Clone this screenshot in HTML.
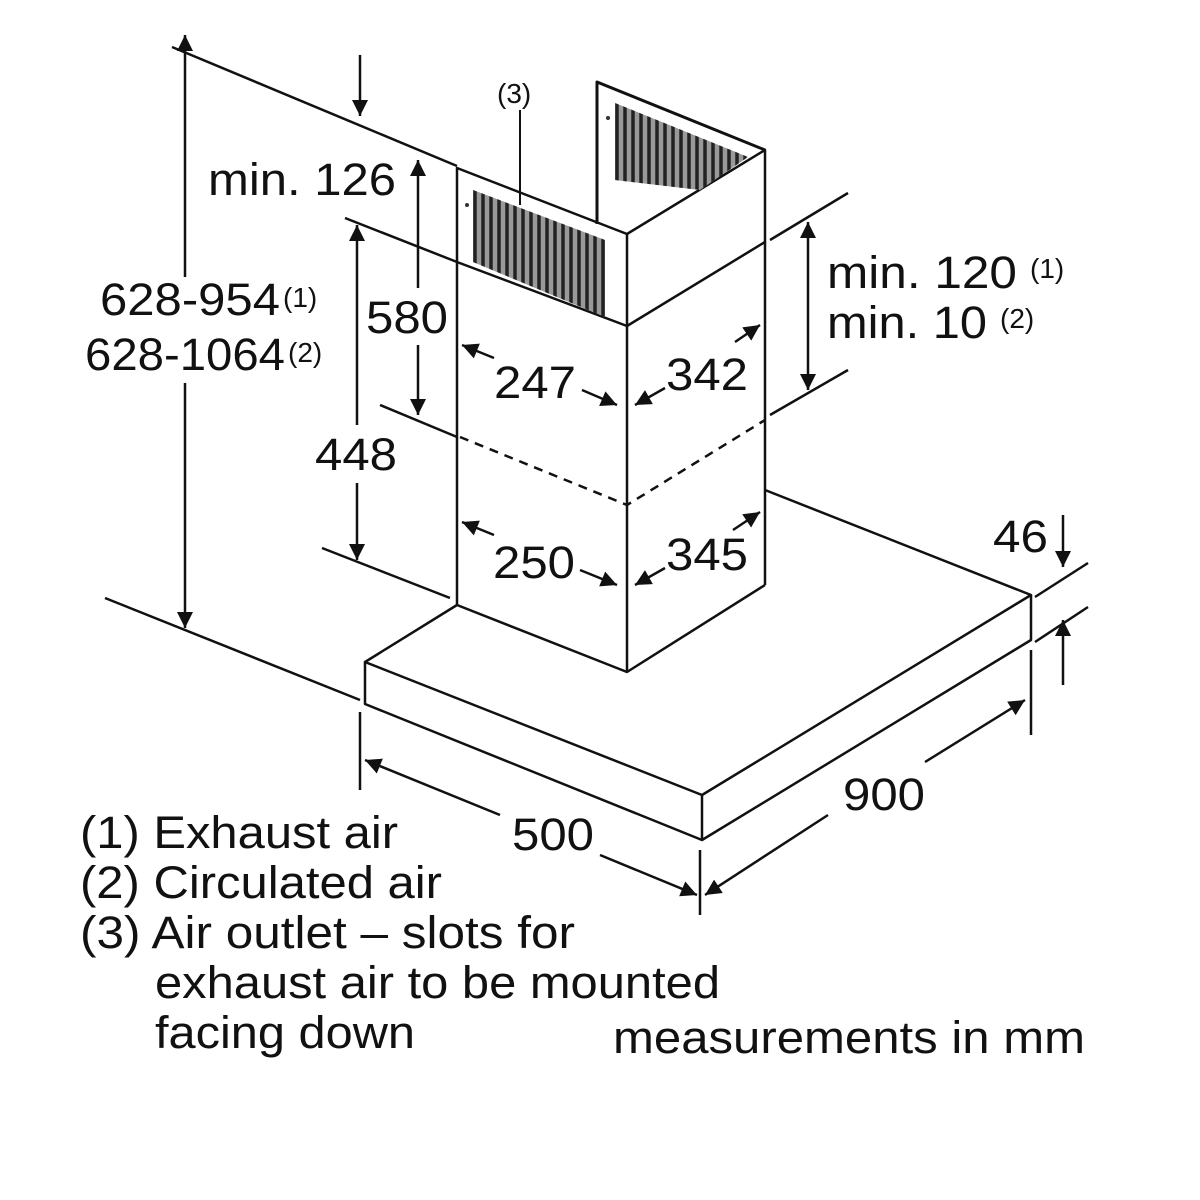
<!DOCTYPE html>
<html><head><style>
html,body{margin:0;padding:0;background:#fff}
svg{display:block}
text{font-family:"Liberation Sans",Arial,sans-serif;fill:#111}
</style></head><body>
<svg width="1200" height="1200" viewBox="0 0 1200 1200" xmlns="http://www.w3.org/2000/svg">
<defs>
<marker id="b" viewBox="0 0 10 10" refX="10" refY="5" markerWidth="24" markerHeight="16" orient="auto-start-reverse" markerUnits="userSpaceOnUse"><path d="M0,0 L10,5 L0,10 Z" fill="#111"/></marker>
<clipPath id="g1"><polygon points="473,190 605,240 605,317 473,262"/></clipPath>
<clipPath id="g2"><polygon points="615,103 748,157 700,190 615,180"/></clipPath>
</defs>
<g stroke="#111" stroke-width="2.5" fill="none" stroke-linejoin="round">
<line x1="172" y1="47" x2="457" y2="166"/>
<line x1="345" y1="218" x2="457" y2="262"/>
<line x1="380" y1="405" x2="457" y2="437"/>
<line x1="322" y1="548" x2="450" y2="598"/>
<line x1="105" y1="598" x2="360" y2="700"/>
<line x1="770" y1="240" x2="848" y2="193"/>
<line x1="770" y1="415" x2="848" y2="370"/>
<polyline points="457,262 457,168 627,234 765,150 765,242"/>
<line x1="627" y1="234" x2="627" y2="672"/>
<polyline points="597,224 597,82 765,150" stroke-width="3"/>
<polyline points="457,262 627,326 765,242"/>
<line x1="457" y1="262" x2="457" y2="605"/>
<line x1="765" y1="242" x2="765" y2="585"/>
<polyline points="457,605 627,672 765,585"/>
<polyline points="460,437 627,505 765,420" stroke-dasharray="9,7"/>
<polyline points="457,605 365,662 702,795 1031,595 765,490"/>
<polyline points="365,662 365,704 702,840 1031,640 1031,595"/>
<line x1="702" y1="795" x2="702" y2="840"/>
<line x1="360" y1="712" x2="360" y2="790"/>
<line x1="700" y1="850" x2="700" y2="915"/>
<line x1="1031" y1="650" x2="1031" y2="735"/>
<line x1="1035" y1="597" x2="1088" y2="563"/>
<line x1="1035" y1="642" x2="1088" y2="607"/>
<line x1="520" y1="110" x2="520" y2="205" stroke-width="2"/>
</g>
<g clip-path="url(#g1)" stroke-width="3.5">
<rect x="470" y="185" width="140" height="140" fill="#999"/>
<g stroke="#222">
<line x1="475" y1="180" x2="475" y2="330"/><line x1="483" y1="180" x2="483" y2="330"/><line x1="491" y1="180" x2="491" y2="330"/><line x1="499" y1="180" x2="499" y2="330"/><line x1="507" y1="180" x2="507" y2="330"/><line x1="515" y1="180" x2="515" y2="330"/><line x1="523" y1="180" x2="523" y2="330"/><line x1="531" y1="180" x2="531" y2="330"/><line x1="539" y1="180" x2="539" y2="330"/><line x1="547" y1="180" x2="547" y2="330"/><line x1="555" y1="180" x2="555" y2="330"/><line x1="563" y1="180" x2="563" y2="330"/><line x1="571" y1="180" x2="571" y2="330"/><line x1="579" y1="180" x2="579" y2="330"/><line x1="587" y1="180" x2="587" y2="330"/><line x1="595" y1="180" x2="595" y2="330"/><line x1="603" y1="180" x2="603" y2="330"/>
</g></g>
<g clip-path="url(#g2)" stroke-width="3.5">
<rect x="612" y="100" width="140" height="95" fill="#999"/>
<g stroke="#222">
<line x1="617" y1="95" x2="617" y2="200"/><line x1="625" y1="95" x2="625" y2="200"/><line x1="633" y1="95" x2="633" y2="200"/><line x1="641" y1="95" x2="641" y2="200"/><line x1="649" y1="95" x2="649" y2="200"/><line x1="657" y1="95" x2="657" y2="200"/><line x1="665" y1="95" x2="665" y2="200"/><line x1="673" y1="95" x2="673" y2="200"/><line x1="681" y1="95" x2="681" y2="200"/><line x1="689" y1="95" x2="689" y2="200"/><line x1="697" y1="95" x2="697" y2="200"/><line x1="705" y1="95" x2="705" y2="200"/><line x1="713" y1="95" x2="713" y2="200"/><line x1="721" y1="95" x2="721" y2="200"/><line x1="729" y1="95" x2="729" y2="200"/><line x1="737" y1="95" x2="737" y2="200"/><line x1="745" y1="95" x2="745" y2="200"/>
</g></g>
<circle cx="467" cy="205" r="2" fill="#333"/><circle cx="608" cy="118" r="2" fill="#333"/>
<g stroke="#111" stroke-width="2.5" fill="none">
<line x1="185" y1="35" x2="185" y2="277" marker-start="url(#b)"/>
<line x1="185" y1="383" x2="185" y2="628" marker-end="url(#b)"/>
<line x1="360" y1="55" x2="360" y2="116" marker-end="url(#b)"/>
<line x1="418" y1="160" x2="418" y2="288" marker-start="url(#b)"/>
<line x1="418" y1="345" x2="418" y2="415" marker-end="url(#b)"/>
<line x1="357" y1="225" x2="357" y2="425" marker-start="url(#b)"/>
<line x1="357" y1="483" x2="357" y2="560" marker-end="url(#b)"/>
<line x1="808" y1="222" x2="808" y2="390" marker-start="url(#b)" marker-end="url(#b)"/>
<line x1="462" y1="345" x2="494" y2="358" marker-start="url(#b)"/>
<line x1="582" y1="390" x2="617" y2="405" marker-end="url(#b)"/>
<line x1="735" y1="342" x2="760" y2="325" marker-end="url(#b)"/>
<line x1="665" y1="388" x2="635" y2="405" marker-end="url(#b)"/>
<line x1="462" y1="522" x2="494" y2="535" marker-start="url(#b)"/>
<line x1="580" y1="570" x2="617" y2="585" marker-end="url(#b)"/>
<line x1="733" y1="530" x2="760" y2="512" marker-end="url(#b)"/>
<line x1="665" y1="568" x2="635" y2="585" marker-end="url(#b)"/>
<line x1="365" y1="760" x2="500" y2="815" marker-start="url(#b)"/>
<line x1="600" y1="855" x2="697" y2="895" marker-end="url(#b)"/>
<line x1="705" y1="895" x2="828" y2="815" marker-start="url(#b)"/>
<line x1="925" y1="762" x2="1025" y2="700" marker-end="url(#b)"/>
<line x1="1063" y1="515" x2="1063" y2="567" marker-end="url(#b)"/>
<line x1="1063" y1="685" x2="1063" y2="620" marker-end="url(#b)"/>
</g>
<g font-size="45">
<text x="497" y="103" font-size="28">(3)</text>
<text x="208" y="195" textLength="188" lengthAdjust="spacingAndGlyphs">min. 126</text>
<text x="100" y="315" textLength="180" lengthAdjust="spacingAndGlyphs">628-954</text><text x="283" y="307" font-size="28">(1)</text>
<text x="85" y="370" textLength="200" lengthAdjust="spacingAndGlyphs">628-1064</text><text x="288" y="362" font-size="28">(2)</text>
<text x="366" y="333" textLength="82" lengthAdjust="spacingAndGlyphs">580</text>
<text x="315" y="470" textLength="82" lengthAdjust="spacingAndGlyphs">448</text>
<text x="494" y="398" textLength="82" lengthAdjust="spacingAndGlyphs">247</text>
<text x="666" y="390" textLength="82" lengthAdjust="spacingAndGlyphs">342</text>
<text x="493" y="578" textLength="82" lengthAdjust="spacingAndGlyphs">250</text>
<text x="666" y="570" textLength="82" lengthAdjust="spacingAndGlyphs">345</text>
<text x="827" y="288" textLength="190" lengthAdjust="spacingAndGlyphs">min. 120</text><text x="1030" y="278" font-size="28">(1)</text>
<text x="827" y="338" textLength="160" lengthAdjust="spacingAndGlyphs">min. 10</text><text x="1000" y="328" font-size="28">(2)</text>
<text x="993" y="552" textLength="55" lengthAdjust="spacingAndGlyphs">46</text>
<text x="843" y="810" textLength="82" lengthAdjust="spacingAndGlyphs">900</text>
<text x="512" y="850" textLength="82" lengthAdjust="spacingAndGlyphs">500</text>
<text x="80" y="848" textLength="318" lengthAdjust="spacingAndGlyphs">(1) Exhaust air</text>
<text x="80" y="898" textLength="362" lengthAdjust="spacingAndGlyphs">(2) Circulated air</text>
<text x="80" y="948" textLength="495" lengthAdjust="spacingAndGlyphs">(3) Air outlet – slots for</text>
<text x="155" y="998" textLength="565" lengthAdjust="spacingAndGlyphs">exhaust air to be mounted</text>
<text x="155" y="1048" textLength="260" lengthAdjust="spacingAndGlyphs">facing down</text>
<text x="613" y="1053" textLength="472" lengthAdjust="spacingAndGlyphs">measurements in mm</text>
</g>
</svg>
</body></html>
